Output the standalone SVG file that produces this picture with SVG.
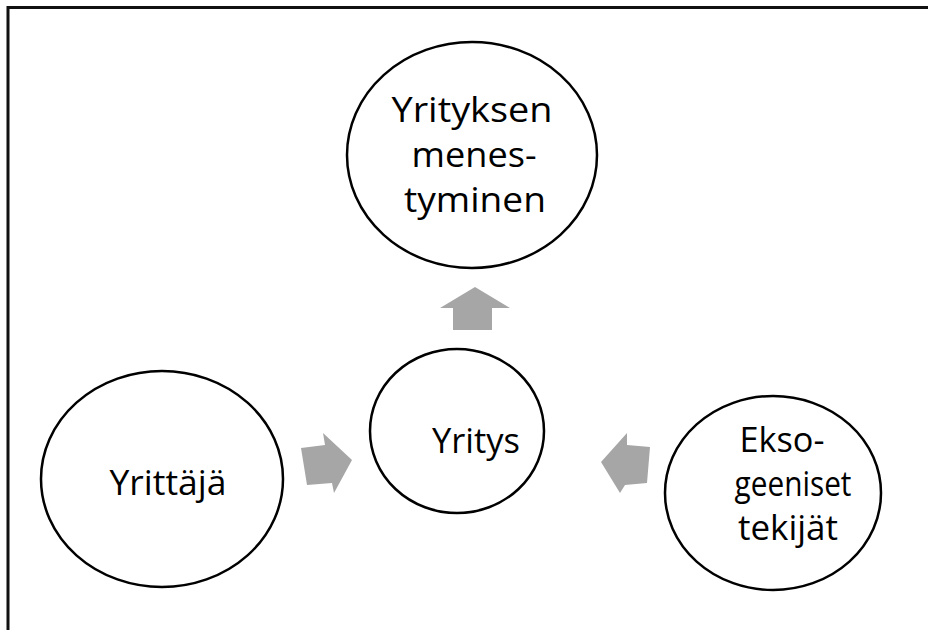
<svg xmlns="http://www.w3.org/2000/svg" width="928" height="630" viewBox="0 0 928 630">
<style>
.node{fill:#fff;stroke:#000;stroke-width:2.5}
.lbl{font-family:"Open Sans","Liberation Sans",sans-serif;font-size:34px;fill:#000;text-anchor:middle}
.arr{fill:#a6a6a6;stroke:none}
</style>
<rect width="928" height="630" fill="#fff"/>
<path d="M8,630 V7.5 H928" fill="none" stroke="#111" stroke-width="3"/>
<g id="menestyminen">
<ellipse class="node" cx="472" cy="155" rx="125" ry="113"/>
<text class="lbl" x="472" y="122" textLength="161" lengthAdjust="spacingAndGlyphs">Yrityksen</text>
<text class="lbl" x="474" y="167" textLength="125" lengthAdjust="spacingAndGlyphs">menes-</text>
<text class="lbl" x="475" y="212" textLength="142" lengthAdjust="spacingAndGlyphs">tyminen</text>
</g>
<g id="yritys">
<ellipse class="node" cx="457" cy="431" rx="87" ry="82"/>
<text class="lbl" x="476" y="453" textLength="88" lengthAdjust="spacingAndGlyphs">Yritys</text>
</g>
<g id="yrittaja">
<ellipse class="node" cx="162" cy="479" rx="121" ry="108"/>
<text class="lbl" x="168" y="495" textLength="117" lengthAdjust="spacingAndGlyphs">Yrittäjä</text>
</g>
<g id="eksogeeniset">
<ellipse class="node" cx="773" cy="493" rx="108" ry="97"/>
<text class="lbl" x="782" y="452" textLength="85" lengthAdjust="spacingAndGlyphs">Ekso-</text>
<text class="lbl" x="793" y="496" textLength="117" lengthAdjust="spacingAndGlyphs">geeniset</text>
<text class="lbl" x="788" y="540" textLength="100" lengthAdjust="spacingAndGlyphs">tekijät</text>
</g>
<g id="connectors">
<polygon class="arr" points="475,287 510,308 492,308 492,330 453,330 453,308 440,308"/>
<polygon class="arr" points="301,448 325,445 323,433 352,460 334,493 332,483 307,485"/>
<polygon class="arr" points="601,462 627,433 627,445 650,447 647,483 625,485 620,493"/>
</g>
</svg>
